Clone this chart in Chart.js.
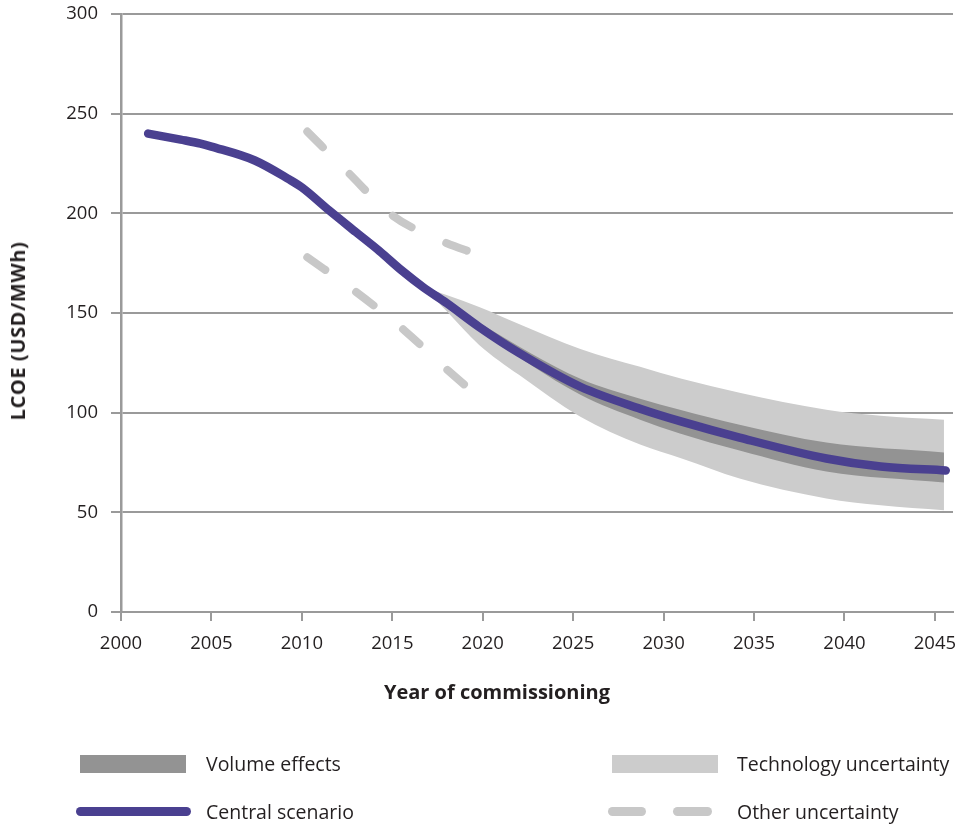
<!DOCTYPE html>
<html>
<head>
<meta charset="utf-8">
<script src="https://cdn.jsdelivr.net/npm/chart.js@4"></script>
<style>
  html, body { margin: 0; padding: 0; background: #fff; }
  #wrap { position: relative; width: 963px; height: 826px; }
  #chart { position: absolute; left: 0; top: 0; }
  .lg { position: absolute; font-family: "Open Sans", sans-serif; font-size: 19.5px; color: #231f20; line-height: 24px; white-space: nowrap; }
  .sw { position: absolute; }
  .ttl { position: absolute; font-family: "Open Sans", sans-serif; font-weight: bold; font-size: 20px; color: #231f20; line-height: 24px; white-space: nowrap; }
</style>
</head>
<body>
<div id="wrap">
  <canvas id="chart" width="963" height="826"></canvas>
  <div class="ttl" style="left:497px;top:680px;transform:translateX(-50%)">Year of commissioning</div>
  <div class="ttl" style="left:18px;top:331px;transform:translate(-50%,-50%) rotate(-90deg);letter-spacing:0.6px">LCOE (USD/MWh)</div>
  <div class="sw" style="left:80px;top:755px;width:106px;height:18px;background:#939393"></div>
  <div class="lg" style="left:206px;top:752px">Volume effects</div>
  <div class="sw" style="left:612px;top:755px;width:106px;height:18px;background:#cccccc"></div>
  <div class="lg" style="left:737px;top:752px">Technology uncertainty</div>
  <div class="sw" style="left:76px;top:807px;width:115px;height:9px;border-radius:5px;background:#4a4090"></div>
  <div class="lg" style="left:206px;top:800px">Central scenario</div>
  <div class="sw" style="left:608px;top:807px;width:38px;height:9px;border-radius:5px;background:#c8c8c8"></div>
  <div class="sw" style="left:673px;top:807px;width:39px;height:9px;border-radius:5px;background:#c8c8c8"></div>
  <div class="lg" style="left:737px;top:800px">Other uncertainty</div>
</div>
<script>
const xTicks = [2000, 2005, 2010, 2015, 2020, 2025, 2030, 2035, 2040, 2045];
const yTicks = [0, 50, 100, 150, 200, 250, 300];

const centralYears = [2001.5, 2003.3, 2004.4, 2005, 2007.4, 2009.3, 2010, 2011.5, 2013, 2014.3, 2015.5, 2016.7, 2018, 2019.8, 2022, 2025.4, 2028.7, 2031, 2034.2, 2039, 2042, 2045.6];
const centralValues = [240, 237, 235, 233.5, 226.5, 217, 213, 201.5, 190.5, 181, 171.5, 163, 155, 143, 130, 113, 102, 95.5, 87.5, 77, 73, 71];

const volumeYears = [2016.7, 2020, 2025.4, 2028.7, 2030.9, 2034.2, 2039, 2045.5];
const volumeUpper = [163, 144, 117, 107, 101.5, 94, 85, 80];
const volumeLower = [163, 140.5, 109, 96.5, 89.5, 81, 70.5, 65];

const techYears = [2016.7, 2018, 2019.8, 2022, 2025.4, 2028.7, 2031, 2034.2, 2039, 2042, 2045.5];
const techUpper = [163, 159, 153, 144.5, 132, 123, 117, 110, 101.5, 98.5, 96.5];
const techLower = [163, 151, 134, 119, 98, 84, 77, 67, 57, 53.5, 51];

const otherUpperYears = [2010.3, 2012.5, 2015, 2017.5, 2019.8];
const otherUpperValues = [241, 221, 199, 187, 179];
const otherLowerYears = [2010.3, 2013, 2015.7, 2018.1, 2019.5];
const otherLowerValues = [178, 160.5, 141, 121, 110];

const pts = (xs, ys) => xs.map((x, i) => ({ x: x, y: ys[i] }));

const gridColor = '#9a9a9a';
const textColor = '#231f20';
const fontFamily = '"Open Sans", sans-serif';

const ctx = document.getElementById('chart').getContext('2d');

new Chart(ctx, {
  type: 'line',
  data: {
    datasets: [
      {
        label: 'Central scenario',
        data: pts(centralYears, centralValues),
        borderColor: '#4a4090',
        borderWidth: 8.5,
        borderCapStyle: 'round',
        borderJoinStyle: 'round',
        cubicInterpolationMode: 'monotone',
        pointRadius: 0,
        fill: false
      },
      {
        label: 'Other uncertainty',
        data: pts(otherUpperYears, otherUpperValues),
        borderColor: '#c8c8c8',
        borderWidth: 8,
        borderDash: [22, 38],
        borderCapStyle: 'round',
        cubicInterpolationMode: 'monotone',
        pointRadius: 0,
        fill: false
      },
      {
        label: 'Other uncertainty low',
        data: pts(otherLowerYears, otherLowerValues),
        borderColor: '#c8c8c8',
        borderWidth: 8,
        borderDash: [22, 38],
        borderCapStyle: 'round',
        cubicInterpolationMode: 'monotone',
        pointRadius: 0,
        fill: false
      },
      {
        label: 'Volume effects',
        data: pts(volumeYears, volumeUpper),
        borderWidth: 0,
        borderColor: 'rgba(0,0,0,0)',
        backgroundColor: '#939393',
        cubicInterpolationMode: 'monotone',
        pointRadius: 0,
        fill: '+1'
      },
      {
        label: 'Volume effects low',
        data: pts(volumeYears, volumeLower),
        borderWidth: 0,
        borderColor: 'rgba(0,0,0,0)',
        cubicInterpolationMode: 'monotone',
        pointRadius: 0,
        fill: false
      },
      {
        label: 'Technology uncertainty',
        data: pts(techYears, techUpper),
        borderWidth: 0,
        borderColor: 'rgba(0,0,0,0)',
        backgroundColor: '#cccccc',
        cubicInterpolationMode: 'monotone',
        pointRadius: 0,
        fill: '+1'
      },
      {
        label: 'Technology uncertainty low',
        data: pts(techYears, techLower),
        borderWidth: 0,
        borderColor: 'rgba(0,0,0,0)',
        cubicInterpolationMode: 'monotone',
        pointRadius: 0,
        fill: false
      }
    ]
  },
  options: {
    responsive: false,
    animation: false,
    layout: { padding: { top: 14, right: 10, bottom: 122, left: 0 } },
    plugins: {
      legend: { display: false },
      tooltip: { enabled: false }
    },
    scales: {
      x: {
        type: 'linear',
        min: 2000,
        max: 2046,
        afterBuildTicks: (scale) => { scale.ticks = xTicks.map(v => ({ value: v })); },
        afterFit: (scale) => {
          scale.height = 92;
          scale.paddingLeft = 0;
          scale.paddingRight = 0;
        },
        grid: { drawOnChartArea: false, drawTicks: true, tickLength: 9, color: gridColor, lineWidth: 2 },
        border: { display: true, color: gridColor, width: 2 },
        ticks: {
          padding: 12,
          color: textColor,
          font: { family: fontFamily, size: 18.5 },
          callback: (v) => String(v)
        }
      },
      y: {
        min: 0,
        max: 300,
        afterBuildTicks: (scale) => { scale.ticks = yTicks.map(v => ({ value: v })); },
        afterFit: (scale) => {
          scale.width = 121;
          scale.paddingTop = 0;
          scale.paddingBottom = 0;
        },
        grid: { drawTicks: true, tickLength: 10, color: gridColor, lineWidth: 2 },
        border: { display: true, color: gridColor, width: 2.5 },
        ticks: {
          padding: 13,
          color: textColor,
          font: { family: fontFamily, size: 18.5 }
        }
      }
    }
  }
});
</script>
</body>
</html>
